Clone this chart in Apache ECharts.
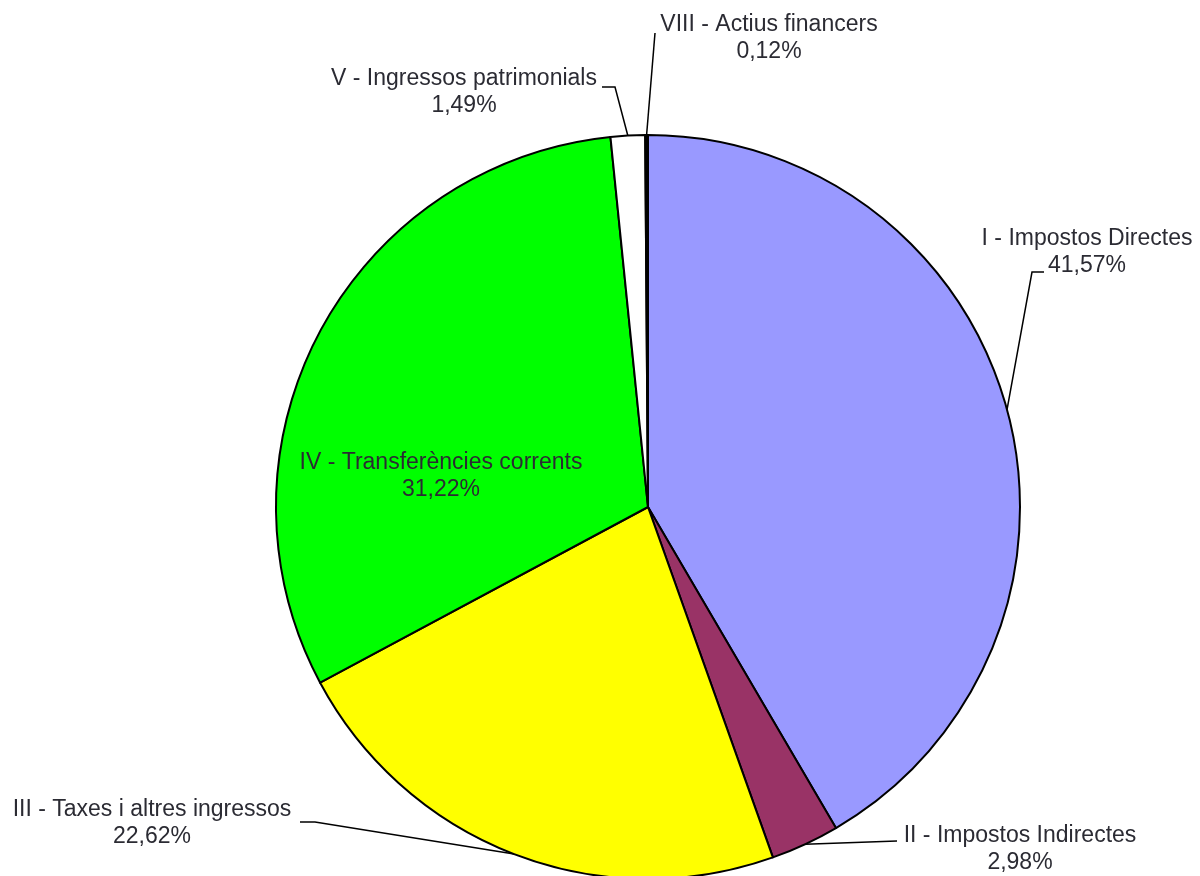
<!DOCTYPE html>
<html>
<head>
<meta charset="utf-8">
<style>
html,body{margin:0;padding:0;background:#fff;}
#chart{width:1200px;height:876px;}
</style>
<script src="https://cdn.jsdelivr.net/npm/echarts@6/dist/echarts.min.js"></script>
</head>
<body>
<div id="chart"></div>
<script>
// ---- data ----
const categories = [
  'I - Impostos Directes',
  'II - Impostos Indirectes',
  'III - Taxes i altres ingressos',
  'IV - Transferències corrents',
  'V - Ingressos patrimonials',
  'VIII - Actius financers'
];
const values = [41.57, 2.98, 22.62, 31.22, 1.49, 0.12];
const percentLabels = ['41,57%', '2,98%', '22,62%', '31,22%', '1,49%', '0,12%'];

// ---- styles / layout ----
const colors = ['#9999FF', '#993366', '#FFFF00', '#00FF00', '#FFFFFF', '#000000'];
// label block centres (text layout)
const labelPos = [
  [1087, 252], [1020, 849], [152, 823], [441, 476], [464, 92], [769, 38]
];
// guide line points relative to label centre (after the slice edge point)
const guideRel = [
  [[-55, 20], [-43, 20]],
  [[-123, -8]],
  [[163, -1], [148, -1]],
  null,
  [[151, -5], [138, -5]],
  [[-114, -5]]
];

const chart = echarts.init(document.getElementById('chart'));
const data = categories.map((c, i) => ({
  name: c,
  value: values[i],
  itemStyle: { color: colors[i] },
  label: { position: i === 3 ? 'inside' : 'outside' },
  labelLine: { show: i !== 3 }
}));

chart.setOption({
  backgroundColor: '#ffffff',
  animation: false,
  series: [{
    type: 'pie',
    center: [648, 507],
    radius: 372,
    startAngle: 90,
    clockwise: true,
    avoidLabelOverlap: false,
    data: data,
    itemStyle: { borderColor: '#000', borderWidth: 2 },
    emphasis: { disabled: true },
    label: {
      show: true,
      formatter: p => p.name + '\n' + percentLabels[p.dataIndex],
      fontFamily: '"Liberation Sans", Arial, sans-serif',
      fontSize: 23,
      lineHeight: 27,
      color: '#2b2b33',
      align: 'center'
    },
    labelLine: {
      show: true,
      lineStyle: { color: '#000', width: 1.5 }
    },
    labelLayout: function (params) {
      const i = params.dataIndex;
      const pos = labelPos[i];
      const out = { x: pos[0], y: pos[1], align: 'center', verticalAlign: 'middle' };
      if (guideRel[i] && params.labelLinePoints) {
        const pts = [params.labelLinePoints[0].slice()];
        guideRel[i].forEach(r => pts.push([pos[0] + r[0], pos[1] + r[1]]));
        if (pts.length === 2) pts.push(pts[1].slice());
        out.labelLinePoints = pts;
      }
      return out;
    }
  }]
});
</script>
</body>
</html>
